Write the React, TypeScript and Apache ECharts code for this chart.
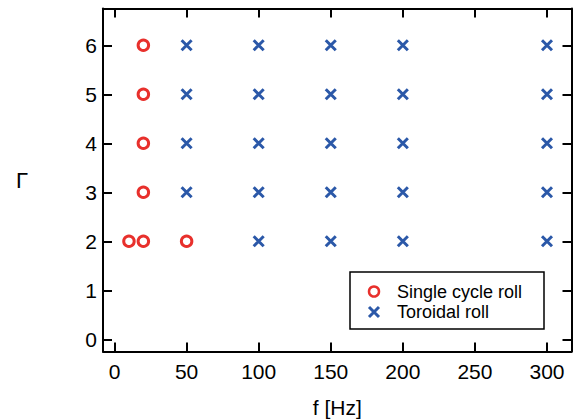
import React, { useEffect, useRef } from "react";
import * as echarts from "echarts";

const singleX = [10, 20, 50, 20, 20, 20, 20];
const singleY = [2, 2, 2, 3, 4, 5, 6];
const toroidalX = [50, 50, 50, 50, 100, 100, 100, 100, 100, 150, 150, 150, 150, 150, 200, 200, 200, 200, 200, 300, 300, 300, 300, 300];
const toroidalY = [3, 4, 5, 6, 2, 3, 4, 5, 6, 2, 3, 4, 5, 6, 2, 3, 4, 5, 6, 2, 3, 4, 5, 6];
const xTicks = [0, 50, 100, 150, 200, 250, 300];
const yTicks = [0, 1, 2, 3, 4, 5, 6];
const seriesNames = ["Single cycle roll", "Toroidal roll"];

const RED = "#e8302c";
const BLUE = "#2b58a8";
const FONT = "'Liberation Sans', Arial, sans-serif";
const CROSS = "path://M0,0L10,10M10,0L0,10";

export default function App() {
  const ref = useRef<HTMLDivElement>(null);
  useEffect(() => {
    const chart = echarts.init(ref.current!, null, { renderer: "svg" });
    const line = { show: true, onZero: false, lineStyle: { color: "#000", width: 2 } };
    const tick = (vals: number[]) => ({
      show: true, inside: true, length: 9, customValues: vals,
      lineStyle: { color: "#000", width: 2 },
    });
    chart.setOption({
      animation: false,
      grid: { left: 103, right: 1.5, top: 8.5, bottom: 68.5, containLabel: false, outerBoundsMode: "none" },
      xAxis: [
        {
          type: "value", min: -8, max: 317, position: "bottom",
          axisLine: line, axisTick: tick(xTicks), splitLine: { show: false },
          axisLabel: { show: true, color: "#000", fontSize: 21, fontFamily: FONT, margin: 9, customValues: xTicks },
          name: "f [Hz]", nameLocation: "middle", nameGap: 45,
          nameTextStyle: { color: "#000", fontSize: 21, fontFamily: FONT },
        },
        {
          type: "value", min: -8, max: 317, position: "top",
          axisLine: line, axisTick: tick(xTicks), splitLine: { show: false },
          axisLabel: { show: false },
        },
      ],
      yAxis: [
        {
          type: "value", min: -0.25, max: 6.75, position: "left",
          axisLine: line, axisTick: tick(yTicks), splitLine: { show: false },
          axisLabel: { show: true, color: "#000", fontSize: 21, fontFamily: FONT, margin: 6, customValues: yTicks },
          name: "Γ", nameLocation: "middle", nameGap: 75, nameRotate: 0,
          nameTextStyle: { color: "#000", fontSize: 22, fontFamily: FONT },
        },
        {
          type: "value", min: -0.25, max: 6.75, position: "right",
          axisLine: line, axisTick: tick(yTicks), splitLine: { show: false },
          axisLabel: { show: false },
        },
      ],
      legend: {
        show: true,
        orient: "vertical",
        left: 350,
        top: 272,
        padding: [10.5, 7, 8, 16.5],
        itemGap: 2.5,
        itemWidth: 10,
        itemHeight: 10,
        borderColor: "#000",
        borderWidth: 1.5,
        borderRadius: 0,
        backgroundColor: "#fff",
        textStyle: {
          color: "#000", fontSize: 18, fontFamily: FONT, lineHeight: 18,
          width: 140, padding: [0, 0, 0, 13], overflow: "none",
        },
        data: [
          { name: seriesNames[0], icon: "circle", itemStyle: { color: "none", borderColor: RED, borderWidth: 2.5 } },
          { name: seriesNames[1], icon: CROSS, itemStyle: { color: "none", borderColor: BLUE, borderWidth: 3 } },
        ],
      },
      series: [
        {
          name: seriesNames[0],
          type: "scatter",
          symbol: "circle",
          symbolSize: 10.5,
          itemStyle: { color: "none", borderColor: RED, borderWidth: 3, opacity: 1 },
          data: singleX.map((x, i) => [x, singleY[i]]),
        },
        {
          name: seriesNames[1],
          type: "scatter",
          symbol: CROSS,
          symbolSize: 10,
          itemStyle: { color: "none", borderColor: BLUE, borderWidth: 3, opacity: 1 },
          data: toroidalX.map((x, i) => [x, toroidalY[i]]),
        },
      ],
    });
    return () => chart.dispose();
  }, []);
  return <div ref={ref} style={{ position: "absolute", left: 0, top: 0, width: 573, height: 420 }} />;
}
